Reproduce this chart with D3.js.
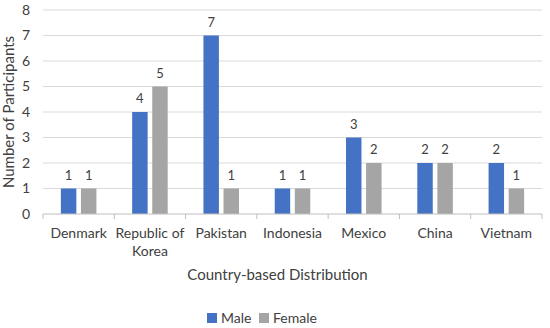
<!DOCTYPE html>
<html><head><meta charset="utf-8">
<script src="https://cdn.jsdelivr.net/npm/d3@7"></script>
<style>body{margin:0;background:#fff}svg{display:block}text{font-family:Lato,"Open Sans",sans-serif;fill:#404040}</style>
</head><body><svg id="c" width="550" height="328"></svg>
<script>
const categories = [["Denmark"],["Republic of","Korea"],["Pakistan"],["Indonesia"],["Mexico"],["China"],["Vietnam"]];
const male = [1,4,7,1,3,2,2];
const female = [1,5,1,1,2,2,1];
const yTicks = [0,1,2,3,4,5,6,7,8];
const seriesNames = ["Male","Female"];
const colors = ["#4472C4","#A5A5A5"];

const svg = d3.select("#c");
const L=43,R=542,T=10,B=214;
const keys = categories.map(c=>c.join(" "));
const x = d3.scaleBand().domain(keys).range([L,R]);
const x1 = d3.scaleBand().domain(seriesNames).range([0,x.bandwidth()]).paddingInner(0.23).paddingOuter(0.89);
const y = d3.scaleLinear().domain([0,8]).range([B,T]);

// gridlines
svg.append("g").selectAll("line").data(yTicks.slice(1)).join("line")
 .attr("x1",L).attr("x2",R).attr("y1",d=>y(d)).attr("y2",d=>y(d))
 .attr("stroke","#D9D9D9").attr("stroke-width",1);

// y axis labels
const ya = svg.append("g").attr("transform",`translate(${L},0)`).call(d3.axisLeft(y).tickValues(yTicks).tickSize(0).tickPadding(13));
ya.select(".domain").remove();
ya.selectAll("text").style("font-family","Lato, sans-serif").style("font-size","14px").attr("fill","#404040");

// bars
const data = keys.map((k,i)=>({k, vals:[male[i],female[i]]}));
const g = svg.append("g").selectAll("g").data(data).join("g").attr("transform",d=>`translate(${x(d.k)},0)`);
g.selectAll("rect").data(d=>d.vals.map((v,j)=>({s:seriesNames[j],v,j}))).join("rect")
 .attr("x",d=>x1(d.s)).attr("width",x1.bandwidth()).attr("y",d=>y(d.v)).attr("height",d=>y(0)-y(d.v))
 .attr("fill",d=>colors[d.j]);
g.selectAll("text").data(d=>d.vals.map((v,j)=>({s:seriesNames[j],v,j}))).join("text")
 .attr("x",d=>x1(d.s)+x1.bandwidth()/2).attr("y",d=>y(d.v)-9).attr("text-anchor","middle")
 .style("font-size","13px").text(d=>d.v);

// x axis
const xa = svg.append("g").attr("transform",`translate(0,${B})`);
xa.append("line").attr("x1",L).attr("x2",R).attr("stroke","#BFBFBF");
xa.selectAll("line.t").data(d3.range(keys.length+1)).join("line").attr("class","t")
 .attr("x1",i=>L+i*x.bandwidth()).attr("x2",i=>L+i*x.bandwidth()).attr("y1",0).attr("y2",5).attr("stroke","#BFBFBF");
xa.selectAll("text").data(categories).join("text")
 .attr("x",(d,i)=>x(keys[i])+x.bandwidth()/2).attr("y",24).attr("text-anchor","middle").style("font-size","14px")
 .selectAll("tspan").data(d=>d).join("tspan").attr("x",function(){return this.parentNode.getAttribute("x")}).attr("dy",(d,i)=>i?18:0).text(d=>d);

// axis titles
svg.append("text").attr("x",(L+R)/2-15).attr("y",280).attr("text-anchor","middle").style("font-size","15px").text("Country-based Distribution");
svg.append("text").attr("transform",`translate(14,${(T+B)/2}) rotate(-90)`).attr("text-anchor","middle").style("font-size","15px").text("Number of Participants");

// legend
const lg = svg.append("g");
const legX=[207,259];
seriesNames.forEach((s,i)=>{
 lg.append("rect").attr("x",legX[i]).attr("y",313).attr("width",10).attr("height",10).attr("fill",colors[i]);
 lg.append("text").attr("x",legX[i]+14).attr("y",323).style("font-size","14px").text(s);
});
</script></body></html>
